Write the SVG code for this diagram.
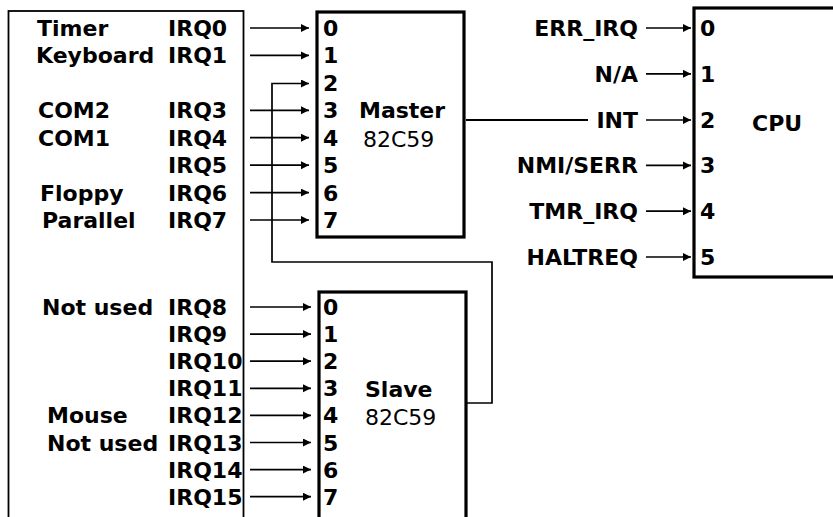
<svg xmlns="http://www.w3.org/2000/svg" width="833" height="517" viewBox="0 0 833 517">
<defs>
<marker id="ah" markerUnits="userSpaceOnUse" markerWidth="9" markerHeight="9" refX="8" refY="4" orient="auto">
<path d="M0,0 L8,4 L0,8 z" fill="#000"/>
</marker>
<style>
text{font-family:"DejaVu Sans","Liberation Sans",sans-serif;font-size:22px;font-weight:bold;fill:#000}
.rg{font-weight:normal}
.box{fill:none;stroke:#000;stroke-width:3.2}
.thin{fill:none;stroke:#000;stroke-width:1.8}
.arr{fill:none;stroke:#000;stroke-width:1.7;marker-end:url(#ah)}
.wire{fill:none;stroke:#000;stroke-width:1.6}
.r{text-anchor:end}
</style>
</defs>
<rect width="833" height="517" fill="#fff"/>

<g id="sources">
<rect class="thin" x="8.5" y="11" width="235" height="520"/>
<text x="37" y="36">Timer</text><text x="168" y="36">IRQ0</text>
<text x="36" y="63.4">Keyboard</text><text x="168" y="63.4">IRQ1</text>
<text x="38" y="118.3">COM2</text><text x="168" y="118.3">IRQ3</text>
<text x="38" y="145.7">COM1</text><text x="168" y="145.7">IRQ4</text>
<text x="168" y="173.2">IRQ5</text>
<text x="40" y="200.6">Floppy</text><text x="168" y="200.6">IRQ6</text>
<text x="42" y="228">Parallel</text><text x="168" y="228">IRQ7</text>
<text x="42" y="315">Not used</text><text x="168" y="315">IRQ8</text>
<text x="168" y="342.1">IRQ9</text>
<text x="168" y="369.2">IRQ10</text>
<text x="168" y="396.3">IRQ11</text>
<text x="47" y="423.4">Mouse</text><text x="168" y="423.4">IRQ12</text>
<text x="47" y="450.5">Not used</text><text x="168" y="450.5">IRQ13</text>
<text x="168" y="477.6">IRQ14</text>
<text x="168" y="504.7">IRQ15</text>
</g>

<g id="master">
<rect class="box" x="317" y="12" width="147" height="225"/>
<text x="323" y="36">0</text>
<text x="323" y="63.4">1</text>
<text x="323" y="90.9">2</text>
<text x="323" y="118.3">3</text>
<text x="323" y="145.7">4</text>
<text x="323" y="173.2">5</text>
<text x="323" y="200.6">6</text>
<text x="323" y="228">7</text>
<text x="359" y="117.5">Master</text>
<text class="rg" x="363" y="147">82C59</text>
</g>

<g id="slave">
<rect class="box" x="319" y="292" width="147" height="240"/>
<text x="323" y="315">0</text>
<text x="323" y="342.1">1</text>
<text x="323" y="369.2">2</text>
<text x="323" y="396.3">3</text>
<text x="323" y="423.4">4</text>
<text x="323" y="450.5">5</text>
<text x="323" y="477.6">6</text>
<text x="323" y="504.7">7</text>
<text x="365" y="397">Slave</text>
<text class="rg" x="365" y="425">82C59</text>
</g>

<g id="cpu">
<rect class="box" x="694" y="8" width="160" height="269"/>
<text x="700" y="36">0</text>
<text x="700" y="81.8">1</text>
<text x="700" y="128">2</text>
<text x="700" y="173.4">3</text>
<text x="700" y="219.2">4</text>
<text x="700" y="265">5</text>
<text x="752" y="131">CPU</text>
<text class="r" x="638" y="36">ERR_IRQ</text>
<text class="r" x="638" y="81.8">N/A</text>
<text class="r" x="638" y="128">INT</text>
<text class="r" x="638" y="173.4">NMI/SERR</text>
<text class="r" x="638" y="219.2">TMR_IRQ</text>
<text class="r" x="638" y="265">HALTREQ</text>
</g>

<g id="connectors">
<line class="arr" x1="250" y1="28" x2="309" y2="28"/>
<line class="arr" x1="250" y1="55.4" x2="309" y2="55.4"/>
<line class="arr" x1="250" y1="110.3" x2="309" y2="110.3"/>
<line class="arr" x1="250" y1="137.7" x2="309" y2="137.7"/>
<line class="arr" x1="250" y1="165.2" x2="309" y2="165.2"/>
<line class="arr" x1="250" y1="192.6" x2="309" y2="192.6"/>
<line class="arr" x1="250" y1="220" x2="309" y2="220"/>
<polyline class="arr" points="466,403 492,403 492,262 272,262 272,83.5 309,83.5"/>
<line class="arr" x1="250" y1="307" x2="311" y2="307"/>
<line class="arr" x1="250" y1="334.1" x2="311" y2="334.1"/>
<line class="arr" x1="250" y1="361.2" x2="311" y2="361.2"/>
<line class="arr" x1="250" y1="388.3" x2="311" y2="388.3"/>
<line class="arr" x1="250" y1="415.4" x2="311" y2="415.4"/>
<line class="arr" x1="250" y1="442.5" x2="311" y2="442.5"/>
<line class="arr" x1="250" y1="469.6" x2="311" y2="469.6"/>
<line class="arr" x1="250" y1="496.7" x2="311" y2="496.7"/>
<line class="wire" x1="466" y1="120" x2="588" y2="120" style="stroke-width:2.2"/>
<line class="arr" x1="646" y1="28" x2="691" y2="28"/>
<line class="arr" x1="646" y1="73.8" x2="691" y2="73.8"/>
<line class="arr" x1="646" y1="120" x2="691" y2="120"/>
<line class="arr" x1="646" y1="165.4" x2="691" y2="165.4"/>
<line class="arr" x1="646" y1="211.2" x2="691" y2="211.2"/>
<line class="arr" x1="646" y1="257" x2="691" y2="257"/>
</g>
</svg>
